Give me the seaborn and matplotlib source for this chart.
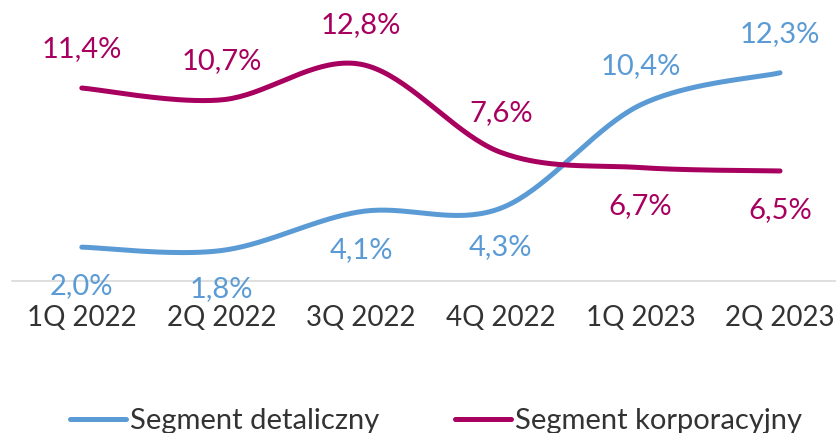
import numpy as np
import matplotlib
matplotlib.use("Agg")
import matplotlib.pyplot as plt
import seaborn as sns

# data
quarters = ["1Q 2022", "2Q 2022", "3Q 2022", "4Q 2022", "1Q 2023", "2Q 2023"]
retail = [2.0, 1.8, 4.1, 4.3, 10.4, 12.3]
corporate = [11.4, 10.7, 12.8, 7.6, 6.7, 6.5]

BLUE = "#5B9BD5"
MAGENTA = "#A8005F"


def smooth(y, n=40):
    # catmull-rom curve through the points, like an Excel smoothed line
    x = np.arange(len(y), dtype=float)
    y = np.asarray(y, dtype=float)
    px = np.concatenate([[x[0]], x, [x[-1]]])
    py = np.concatenate([[y[0]], y, [y[-1]]])
    xs, ys = [], []
    for i in range(1, len(px) - 2):
        p0, p1, p2, p3 = [np.array([px[j], py[j]]) for j in (i - 1, i, i + 1, i + 2)]
        c1 = p1 + (p2 - p0) / 6
        c2 = p2 - (p3 - p1) / 6
        t = np.linspace(0, 1, n)[:, None]
        pts = (1 - t) ** 3 * p1 + 3 * (1 - t) ** 2 * t * c1 + 3 * (1 - t) * t ** 2 * c2 + t ** 3 * p2
        xs.extend(pts[:, 0])
        ys.extend(pts[:, 1])
    return np.array(xs), np.array(ys)


sns.set_theme(style="white")
plt.rcParams["font.family"] = ["Lato", "DejaVu Sans"]

fig = plt.figure(figsize=(8.37, 4.33), dpi=100)
ax = fig.add_axes([12 / 837, 1 - 281 / 433, 825 / 837, 281 / 433])

series = [("Segment detaliczny", retail, BLUE, [1, 1, 1, 1, -1, -1]),
          ("Segment korporacyjny", corporate, MAGENTA, [-1, -1, -1, -1, 1, 1])]

for name, vals, col, side in series:
    sx, sy = smooth(vals)
    sns.lineplot(x=sx, y=sy, ax=ax, color=col, lw=3.6, sort=False,
                 label=name, solid_capstyle="round")
    for i, v in enumerate(vals):
        ax.annotate(f"{v:.1f}%".replace(".", ","), (i, v),
                    xytext=(0, -28 * side[i]), textcoords="offset points",
                    ha="center", va="center", fontsize=21, color=col)

ax.set_xlim(-0.5, 5.408)
ax.set_ylim(0, 16.6)
ax.set_xticks(range(len(quarters)))
ax.set_xticklabels(quarters, fontsize=20, color="#333333")
ax.tick_params(axis="x", length=0, pad=17)
ax.set_yticks([])
for s in ["top", "right", "left"]:
    ax.spines[s].set_visible(False)
ax.spines["bottom"].set_color("#D9D9D9")
ax.spines["bottom"].set_linewidth(1.2)
ax.set_facecolor("none")

leg = ax.legend(loc="center", bbox_to_anchor=(0.514, -0.5), ncol=2, frameon=False,
                fontsize=21, handlelength=1.9, handletextpad=0.15, columnspacing=2.6)
for t in leg.get_texts():
    t.set_color("#333333")

fig.savefig("out.png", dpi=100)
